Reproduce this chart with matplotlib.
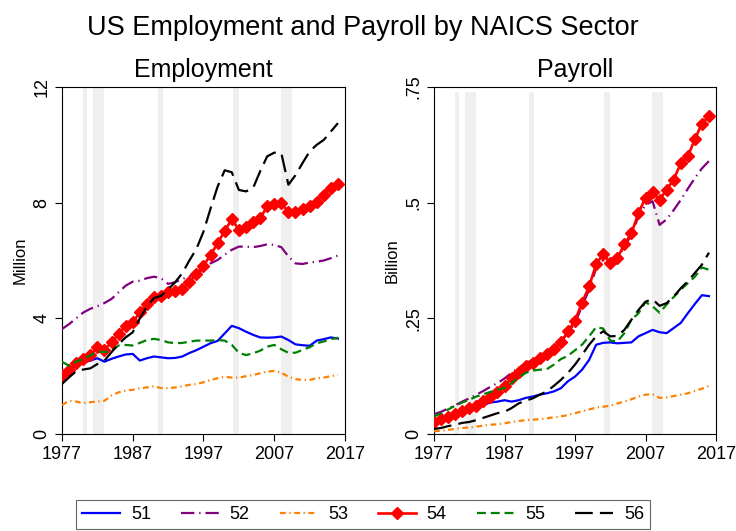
import numpy as np
import matplotlib
matplotlib.use('Agg')
import matplotlib.pyplot as plt

plt.rcParams['font.family'] = ['Liberation Sans', 'DejaVu Sans']

years = np.arange(1977, 2017)
sectors = ['51', '52', '53', '54', '55', '56']

# employment, million
emp51 = [2.1, 2.25, 2.36, 2.46, 2.54, 2.62, 2.5, 2.6, 2.68, 2.75, 2.77, 2.54, 2.62, 2.68, 2.65, 2.62, 2.63, 2.68, 2.8, 2.9,
         3.02, 3.14, 3.22, 3.48, 3.74, 3.66, 3.54, 3.43, 3.34, 3.33, 3.34, 3.37, 3.25, 3.1, 3.07, 3.05, 3.23, 3.28, 3.34, 3.3]
emp52 = [3.63, 3.8, 4.0, 4.2, 4.33, 4.42, 4.53, 4.67, 4.9, 5.13, 5.27, 5.3, 5.39, 5.44, 5.39, 5.19, 5.25, 5.36, 5.45, 5.55,
         5.67, 5.9, 6.02, 6.2, 6.37, 6.48, 6.48, 6.46, 6.5, 6.56, 6.54, 6.46, 6.14, 5.9, 5.88, 5.93, 5.96, 6.0, 6.08, 6.17]
emp53 = [1.0, 1.15, 1.12, 1.07, 1.1, 1.12, 1.15, 1.33, 1.44, 1.5, 1.53, 1.58, 1.61, 1.65, 1.59, 1.58, 1.61, 1.65, 1.7, 1.73,
         1.79, 1.87, 1.93, 1.98, 1.95, 1.95, 2.0, 2.04, 2.1, 2.16, 2.18, 2.12, 1.98, 1.9, 1.87, 1.87, 1.93, 1.95, 2.0, 2.04]
emp54 = [2.05, 2.23, 2.46, 2.6, 2.73, 3.0, 2.92, 3.17, 3.46, 3.75, 3.86, 4.21, 4.5, 4.73, 4.76, 4.9, 4.96, 5.02, 5.25, 5.54,
         5.82, 6.19, 6.6, 7.02, 7.43, 7.06, 7.17, 7.33, 7.46, 7.87, 7.97, 7.98, 7.68, 7.66, 7.77, 7.9, 8.04, 8.28, 8.52, 8.65]
emp55 = [2.5, 2.36, 2.5, 2.6, 2.71, 2.85, 2.83, 2.88, 3.06, 3.08, 3.06, 3.15, 3.25, 3.29, 3.25, 3.17, 3.14, 3.15, 3.19, 3.23,
         3.23, 3.23, 3.25, 3.23, 3.08, 2.81, 2.73, 2.79, 2.88, 3.02, 3.08, 2.93, 2.81, 2.81, 2.91, 3.0, 3.14, 3.2, 3.28, 3.33]
emp56 = [1.73, 1.96, 2.17, 2.23, 2.27, 2.42, 2.54, 2.83, 3.11, 3.34, 3.52, 4.0, 4.4, 4.7, 4.78, 5.0, 5.25, 5.56, 6.0, 6.4,
         7.0, 7.8, 8.56, 9.12, 9.05, 8.44, 8.39, 8.5, 9.08, 9.6, 9.73, 9.71, 8.62, 8.95, 9.37, 9.77, 10.0, 10.17, 10.46, 10.75]

# payroll, billion
pay51 = [0.03, 0.034, 0.038, 0.043, 0.049, 0.053, 0.058, 0.063, 0.068, 0.07, 0.073, 0.07, 0.073, 0.078, 0.081, 0.085,
         0.088, 0.092, 0.099, 0.114, 0.124, 0.139, 0.16, 0.193, 0.197, 0.198, 0.196, 0.197, 0.198, 0.211, 0.218, 0.225,
         0.22, 0.218, 0.229, 0.24, 0.261, 0.281, 0.3, 0.298]
pay52 = [0.043, 0.048, 0.055, 0.062, 0.07, 0.077, 0.085, 0.093, 0.102, 0.11, 0.12, 0.132, 0.143, 0.153, 0.16, 0.165,
         0.176, 0.186, 0.2, 0.218, 0.24, 0.276, 0.312, 0.358, 0.376, 0.373, 0.38, 0.405, 0.43, 0.47, 0.495, 0.503,
         0.452, 0.464, 0.484, 0.506, 0.53, 0.553, 0.574, 0.59]
pay53 = [0.006, 0.007, 0.009, 0.011, 0.013, 0.014, 0.016, 0.018, 0.02, 0.021, 0.023, 0.026, 0.028, 0.03, 0.031, 0.032,
         0.034, 0.036, 0.038, 0.041, 0.045, 0.049, 0.053, 0.057, 0.059, 0.061, 0.066, 0.07, 0.075, 0.081, 0.085, 0.086,
         0.078, 0.079, 0.082, 0.085, 0.088, 0.093, 0.098, 0.104]
pay54 = [0.027, 0.032, 0.037, 0.043, 0.049, 0.056, 0.061, 0.071, 0.081, 0.09, 0.104, 0.121, 0.135, 0.148, 0.153, 0.164,
         0.173, 0.184, 0.198, 0.222, 0.245, 0.284, 0.319, 0.367, 0.389, 0.37, 0.38, 0.41, 0.434, 0.477, 0.511, 0.523,
         0.506, 0.528, 0.55, 0.585, 0.6, 0.637, 0.671, 0.687]
pay55 = [0.038, 0.045, 0.053, 0.061, 0.068, 0.074, 0.081, 0.086, 0.091, 0.096, 0.099, 0.11, 0.122, 0.132, 0.137, 0.139,
         0.14, 0.15, 0.162, 0.169, 0.181, 0.193, 0.211, 0.231, 0.228, 0.202, 0.2, 0.218, 0.247, 0.261, 0.285, 0.276,
         0.262, 0.28, 0.296, 0.312, 0.326, 0.34, 0.36, 0.355]
pay56 = [0.011, 0.013, 0.017, 0.02, 0.024, 0.026, 0.03, 0.035, 0.04, 0.045, 0.048, 0.056, 0.066, 0.072, 0.077, 0.085,
         0.092, 0.104, 0.117, 0.132, 0.15, 0.171, 0.193, 0.211, 0.222, 0.211, 0.212, 0.225, 0.247, 0.268, 0.286, 0.291,
         0.277, 0.283, 0.297, 0.315, 0.33, 0.348, 0.366, 0.392]

# recessions (shaded)
rec_start = [1980.0, 1981.45, 1990.5, 2001.1, 2007.9]
rec_end = [1980.6, 1982.95, 1991.25, 2001.95, 2009.5]

# line styles per sector (stata-ish)
colors = ['#0000ff', '#800080', '#ff8000', '#ff0000', '#008000', '#000000']
dashes = [None, (6, 2.2, 0.6, 2.2), (2.6, 1.6, 0.6, 1.6), None, (4, 2.2), (8, 3.2)]

fig = plt.figure(figsize=(7.36, 5.31), dpi=100)
fig.text(0.4925, 0.947, 'US Employment and Payroll by NAICS Sector', ha='center', va='center', fontsize=19.5)

ax1 = fig.add_axes([62 / 736, 97 / 531, 283 / 736, 347 / 531])
ax2 = fig.add_axes([434 / 736, 97 / 531, 282 / 736, 347 / 531])

panels = [
    (ax1, [emp51, emp52, emp53, emp54, emp55, emp56], 'Employment', 'Million', 12, [0, 4, 8, 12], ['0', '4', '8', '12']),
    (ax2, [pay51, pay52, pay53, pay54, pay55, pay56], 'Payroll', 'Billion', 0.74, [0, 0.25, 0.5, 0.75], ['0', '.25', '.5', '.75']),
]

for ax, series, title, ylab, shade_top, yt, ytl in panels:
    for s, e in zip(rec_start, rec_end):
        ax.fill_between([s, e], 0, shade_top, color='#efefef', lw=0, zorder=0)
    for i, vals in enumerate(series):
        kw = dict(color=colors[i], lw=1.6, label=sectors[i], zorder=2 + i)
        if sectors[i] == '54':
            kw.update(marker='D', ms=6.2, lw=1.9)
        ln, = ax.plot(years, vals, **kw)
        if dashes[i] is not None:
            ln.set_dashes(dashes[i])
    ax.set_xlim(1977, 2017)
    ax.set_ylim(0, yt[-1])
    ax.set_xticks([1977, 1987, 1997, 2007, 2017])
    ax.set_yticks(yt)
    ax.set_yticklabels(ytl)
    ax.tick_params(axis='both', length=5, width=0.8, labelsize=13)
    ax.tick_params(axis='y', labelrotation=90)
    for lbl in ax.get_yticklabels():
        lbl.set_va('center')
    ax.set_title(title, fontsize=18, pad=7)
    ax.set_ylabel(ylab, fontsize=12, labelpad=4)
    for sp in ax.spines.values():
        sp.set_linewidth(0.8)

handles, labels = ax1.get_legend_handles_labels()
leg = fig.legend(handles, labels, loc='lower center', bbox_to_anchor=(0.4935, -0.014), ncol=6, fontsize=13,
                 frameon=True, fancybox=False, edgecolor='#404040', handlelength=2.1, handletextpad=0.6,
                 columnspacing=1.65, borderpad=0.35)
leg.get_frame().set_linewidth(0.8)

fig.savefig('out.png', dpi=100)
